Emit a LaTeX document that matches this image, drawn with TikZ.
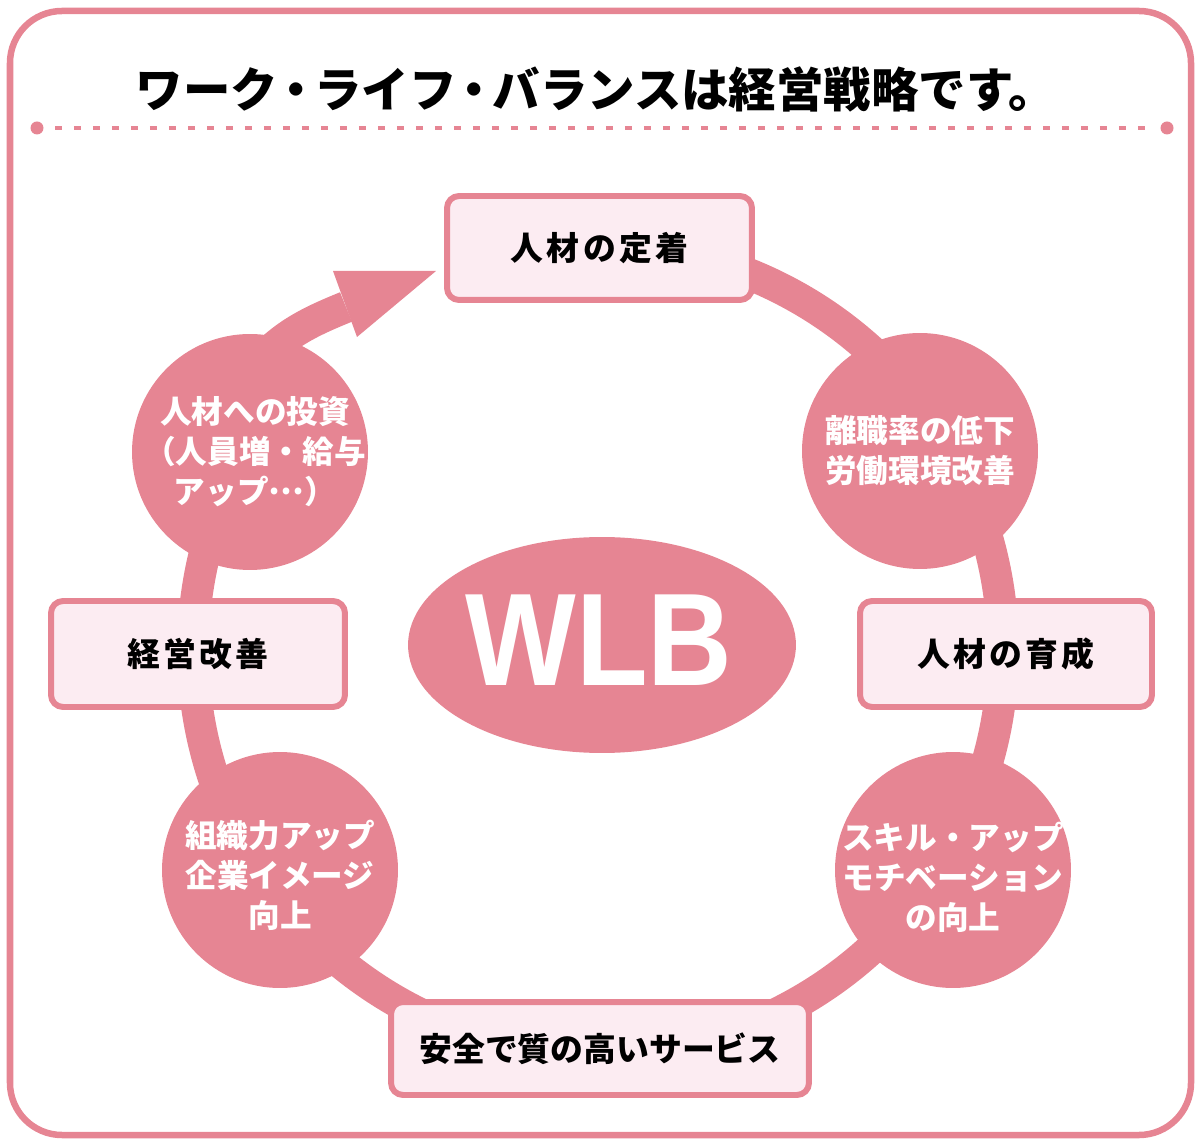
\documentclass[tikz,border=0pt]{standalone}
\usepackage{fontspec}
\usepackage{graphicx}
\usetikzlibrary{shapes.geometric}
\newfontfamily\jp{Noto Sans CJK JP}
\newfontfamily\jpsp{Noto Sans CJK JP}[LetterSpace=10]
\newfontfamily\wlbfont{Liberation Sans}
\definecolor{pk}{HTML}{E68593}
\definecolor{pkl}{HTML}{FCECF2}
\newcommand{\tdot}{\kern-.12em・\kern-.12em}
\tikzset{
  boxnode/.style={draw=pk, line width=3.4pt, fill=pkl, rounded corners=0.24cm, inner sep=0pt, text=black},
  boxfont/.style={font=\jpsp\bfseries\fontsize{18.7}{22}\selectfont},
  circnode/.style={circle, fill=pk, draw=none, inner sep=0pt, minimum size=4.72cm},
  circtext/.style={text=white, align=center, inner sep=0pt,
     font=\jp\bfseries\fontsize{18}{22.7}\selectfont},
  ring/.style={draw=pk, line width=18.1pt},
}
\begin{document}
\begin{tikzpicture}[x=0.02cm, y=0.02cm]
\useasboundingbox (0,0) rectangle (1196,1140);
% frame
\draw[draw=pk, line width=3.7pt, rounded corners=1.04cm] (10,5) rectangle (1191,1129);
% dotted rule
\coordinate (dl) at (37,1012);
\coordinate (dr) at (1167,1012);
\fill[pk] (dl) circle[radius=6.5];
\fill[pk] (dr) circle[radius=6.5];
\draw[pk, line width=2.3pt, dash pattern=on 0.14cm off 0.24cm] (55,1012) -- (1150,1012);
% title
\node[font=\jp\bfseries\fontsize{27}{30}\selectfont, text=black] (title) at (596,1051) {ワーク\tdot ライフ\tdot バランスは経営戦略です。};
% ring
\draw[ring] (598,490) ++(100:405) arc[start angle=100, end angle=-210, radius=405];
% arrow shaft and head
\coordinate (s0) at (250,768);
\coordinate (s1) at (346,833);
\draw[ring] (s0) to[out=50, in=202] (s1);
\fill[pk] (436,869) -- (333,869) -- (357,803) -- cycle;
% boxes
\node[boxnode, boxfont, minimum width=6.1cm, minimum height=2.08cm] (top) at (599.5,892) {人材の定着};
\node[boxnode, boxfont, minimum width=5.88cm, minimum height=2.12cm] (left) at (198,486) {経営改善};
\node[boxnode, boxfont, minimum width=5.84cm, minimum height=2.12cm] (right) at (1006,486) {人材の育成};
\node[boxnode, font=\jp\bfseries\fontsize{18.7}{22}\selectfont, minimum width=8.36cm, minimum height=1.86cm] (bottom) at (600,91.5) {安全で質の高いサービス};
% circles
\node[circnode] (invest) at (250,688) {};
\node[circnode] (turn) at (920,689) {};
\node[circnode] (skill) at (953,270) {};
\node[circnode] (org) at (280,270) {};
\node[circtext] (investt) at (255,688) {人材への投資\\（人員増・給与\\アップ\raisebox{.3em}{…}）};
\node[circtext] (turnt) at (920,689) {離職率の低下\\労働環境改善};
\node[circtext] (skillt) at (953,263) {スキル・アップ\\モチベーション\\の向上};
\node[circtext] (orgt) at (280,265) {組織力アップ\\企業イメージ\\向上};
% WLB
\node[ellipse, fill=pk, minimum width=7.76cm, minimum height=4.32cm, inner sep=0pt] (wlbe) at (602,495) {};
\node[text=white, inner sep=0pt, font=\wlbfont\bfseries\fontsize{75}{75}\selectfont] (wlb) at (599,500) {\scalebox{0.89}[1]{WLB}};
\end{tikzpicture}
\end{document}
